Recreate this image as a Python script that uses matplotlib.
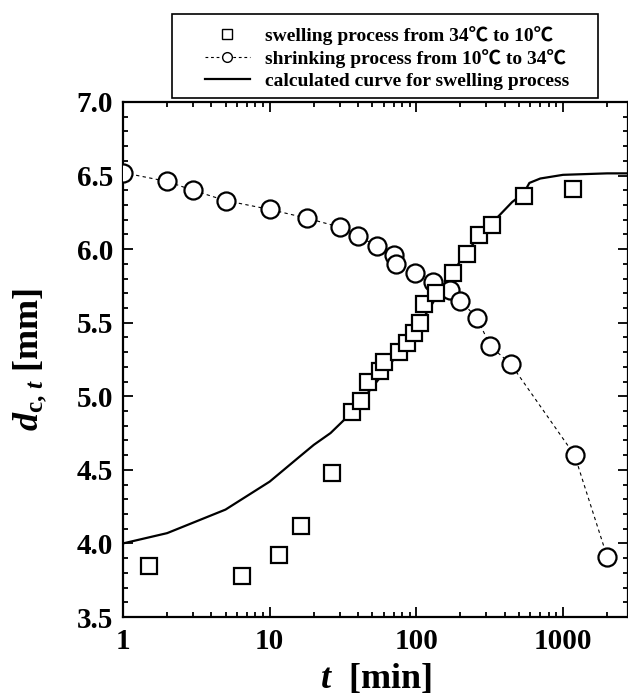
import matplotlib
matplotlib.use("Agg")
import matplotlib.pyplot as plt
from matplotlib.lines import Line2D
from matplotlib.patches import Rectangle
from matplotlib.ticker import MultipleLocator, LogLocator, NullFormatter

plt.rcParams['font.family'] = ['Liberation Serif', 'Noto Sans CJK JP']
plt.rcParams['font.weight'] = 'bold'
plt.rcParams['axes.labelweight'] = 'bold'
plt.rcParams['mathtext.fontset'] = 'custom'
plt.rcParams['mathtext.rm'] = 'Liberation Serif:bold'
plt.rcParams['mathtext.it'] = 'Liberation Serif:bold:italic'
plt.rcParams['mathtext.bf'] = 'Liberation Serif:bold'

# swelling process (34 -> 10 C), measured diameters
swell_t = [1.5, 6.5, 11.5, 16.4, 26.5, 36.3, 41.8, 46.6, 56.5, 60.2, 76, 86,
           97, 106, 112, 136, 177, 220, 269, 326, 542, 1165]
swell_d = [3.85, 3.78, 3.92, 4.12, 4.48, 4.895, 4.97, 5.10, 5.17, 5.23, 5.30,
           5.36, 5.43, 5.50, 5.63, 5.70, 5.835, 5.965, 6.095, 6.165, 6.36, 6.41]

# shrinking process (10 -> 34 C), measured diameters
shrink_t = [1, 2, 3, 5, 10, 18, 30, 40, 54, 70, 73, 98, 129, 170, 200, 260,
            320, 440, 1200, 2000]
shrink_d = [6.52, 6.46, 6.40, 6.33, 6.27, 6.21, 6.15, 6.09, 6.02, 5.96, 5.90,
            5.84, 5.78, 5.72, 5.65, 5.53, 5.34, 5.22, 4.60, 3.91]

# calculated curve for the swelling process
calc_t = [1, 2, 5, 10, 16, 20, 26, 33, 40, 50, 60, 70, 80, 100, 120, 150, 200,
          250, 330, 450, 540, 590, 700, 1000, 2000, 2800]
calc_d = [4.00, 4.07, 4.23, 4.42, 4.59, 4.67, 4.75, 4.85, 4.94, 5.06, 5.16,
          5.25, 5.32, 5.46, 5.58, 5.74, 5.92, 6.05, 6.18, 6.32, 6.38, 6.45,
          6.48, 6.505, 6.515, 6.515]

x_ticks = [1, 10, 100, 1000]
x_tick_labels = ['1', '10', '100', '1000']
y_ticks = [3.5, 4.0, 4.5, 5.0, 5.5, 6.0, 6.5, 7.0]
y_tick_labels = ['3.5', '4.0', '4.5', '5.0', '5.5', '6.0', '6.5', '7.0']

legend_labels = ['swelling process from 34℃ to 10℃',
                 'shrinking process from 10℃ to 34℃',
                 'calculated curve for swelling process']

W, H = 628, 700
fig = plt.figure(figsize=(W / 100, H / 100), dpi=100)
ax = fig.add_axes([123 / W, 1 - 617 / H, 505 / W, 515 / H])

ax.plot(calc_t, calc_d, '-', color='black', lw=1.6, zorder=2)
ax.plot(shrink_t, shrink_d, linestyle=(0, (3, 3)), color='black', lw=0.8,
        marker='o', ms=13, mfc='white', mec='black', mew=1.6, zorder=3)
ax.plot(swell_t, swell_d, linestyle='none', marker='s', ms=11.5,
        mfc='white', mec='black', mew=1.6, zorder=4)

ax.set_xscale('log')
ax.set_xlim(1, 2775)
ax.set_ylim(3.5, 7.0)

ax.set_xticks(x_ticks)
ax.set_xticklabels(x_tick_labels)
ax.xaxis.set_minor_locator(LogLocator(base=10, subs=range(2, 10), numticks=20))
ax.xaxis.set_minor_formatter(NullFormatter())
ax.set_yticks(y_ticks)
ax.set_yticklabels(y_tick_labels)
ax.yaxis.set_minor_locator(MultipleLocator(0.1))

ax.tick_params(which='both', direction='in', top=True, right=True,
               labelsize=21, width=1.3, colors='black')
ax.tick_params(which='major', length=7.5)
ax.tick_params(which='minor', length=3.8)
ax.tick_params(axis='x', pad=8)
ax.tick_params(axis='y', pad=7)
for s in ax.spines.values():
    s.set_linewidth(1.6)

ax.set_xlabel(r'$t$  [min]', fontsize=26, fontweight='bold', labelpad=5)
ax.set_ylabel(r'$d_{\mathrm{c},\,t}$ [mm]', fontsize=26, fontweight='bold',
              labelpad=20)

# legend box drawn separately so its outline can span the full width
fig.add_artist(Rectangle((172 / W, 1 - 98 / H), 426 / W, 84 / H,
                         transform=fig.transFigure, facecolor='white',
                         edgecolor='black', lw=1.2, zorder=5))

handles = [
    Line2D([], [], linestyle='none', marker='s', ms=7, mfc='white',
           mec='black', mew=1.0),
    Line2D([], [], linestyle=(0, (2.5, 2.5)), color='black', lw=0.8,
           marker='o', ms=7, mfc='white', mec='black', mew=1.0),
    Line2D([], [], linestyle='-', color='black', lw=1.6),
]
leg = fig.legend(handles, legend_labels, loc='center left',
                 bbox_to_anchor=(205 / W, 1 - 58 / H),
                 prop={'size': 14, 'weight': 'bold'}, frameon=False,
                 handlelength=2.3, handletextpad=0.8, borderpad=0,
                 labelspacing=0.2, borderaxespad=0)
leg.set_zorder(6)

fig.savefig('out.png', dpi=100)
